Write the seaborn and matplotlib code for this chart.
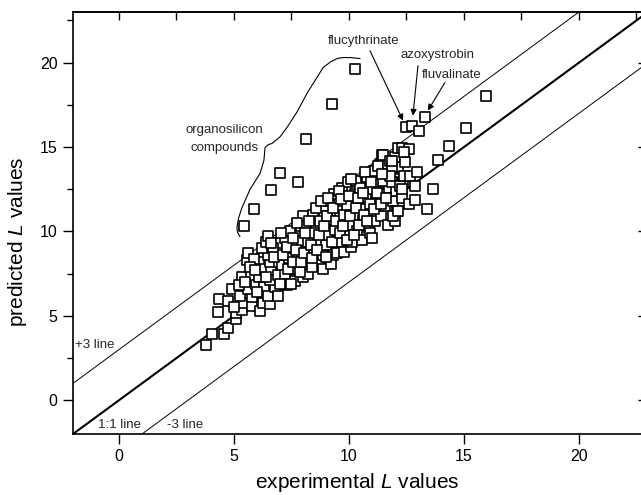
import pandas as pd
import seaborn as sns
import matplotlib.pyplot as plt

# experimental vs predicted L values
exp_L = [
    3.8, 4.05, 4.55, 4.75, 5.1, 4.3, 4.35, 4.75, 4.9, 5.1, 5.35, 5.4, 5.0, 5.25,
    5.8, 5.8, 6.15, 6.25, 6.55, 5.6, 5.95, 5.35, 5.75, 6.1, 6.1, 5.55, 5.6, 5.85,
    6.3, 6.5, 6.8, 6.55, 6.3, 6.6, 6.55, 6.5, 6.95, 6.9, 7.3, 7.2, 7.1, 7.0,
    6.85, 7.2, 7.4, 7.45, 7.65, 7.65, 7.6, 7.8, 7.9, 7.95, 8.0, 8.1, 8.2, 8.2,
    8.15, 8.0, 8.3, 8.45, 8.55, 8.65, 8.7, 8.85, 8.85, 8.9, 8.95, 8.5, 8.75, 8.4,
    9.0, 9.1, 9.2, 9.2, 9.15, 9.35, 9.3, 9.4, 9.5, 9.5, 9.55, 9.6, 9.7, 9.8,
    9.85, 9.9, 9.95, 10.0, 10.1, 10.15, 10.2, 10.25, 10.3, 10.35, 10.45, 10.5, 10.55, 10.6,
    10.7, 10.75, 10.8, 10.85, 10.9, 11.0, 11.05, 11.1, 11.15, 11.2, 11.3, 11.35, 11.4, 11.45,
    11.5, 11.55, 11.6, 11.7, 11.75, 11.8, 11.9, 11.95, 12.05, 12.1, 12.15, 12.3, 12.35, 12.6,
    5.2, 5.5, 5.7, 5.9, 6.0, 6.2, 6.4, 6.4, 6.7, 6.75, 6.9, 7.0, 7.05, 7.15,
    7.3, 7.35, 7.5, 7.55, 7.55, 7.7, 7.75, 7.85, 7.9, 8.05, 8.1, 8.25, 8.35, 8.4,
    8.55, 8.6, 8.7, 8.8, 8.9, 9.0, 9.05, 9.1, 9.25, 9.3, 9.45, 9.55, 9.6, 9.65,
    9.75, 9.8, 9.9, 10.0, 10.05, 10.1, 10.2, 10.3, 10.4, 10.45, 10.6, 10.65, 10.7, 10.8,
    10.9, 10.95, 11.0, 11.1, 11.2, 11.25, 11.4, 11.5, 11.6, 11.7, 11.85, 12.0, 12.0, 12.2,
    12.4, 11.9, 12.45, 11.48, 11.78, 11.87, 11.87, 11.78, 11.43, 12.65, 12.96, 12.3, 12.87,
    5.45, 5.85, 6.6, 7.0, 7.8, 8.15, 9.25, 10.25, 6.5, 6.6,
    12.5, 12.75, 13.3, 13.05, 12.15, 12.3, 12.6, 12.4, 14.35, 15.1, 15.95,
    13.85, 13.65, 12.85, 13.4, 12.15,
]
pred_L = [
    3.3, 3.9, 3.95, 4.3, 4.8, 5.2, 6.0, 5.85, 6.6, 5.15, 5.35, 5.75, 5.5, 6.2,
    5.6, 6.1, 5.3, 5.75, 5.7, 6.6, 6.9, 7.3, 7.4, 7.3, 8.2, 8.3, 8.75, 8.35,
    6.7, 6.2, 6.7, 7.1, 7.8, 7.7, 8.2, 8.6, 8.2, 7.4, 6.8, 7.5, 8.0, 8.8,
    9.3, 9.6, 8.4, 10.05, 7.05, 9.15, 7.8, 8.5, 10.35, 9.45, 7.3, 8.0, 7.5, 9.4,
    10.4, 10.9, 8.8, 11.0, 10.2, 9.45, 8.0, 8.6, 7.75, 11.0, 11.5, 9.9, 10.6, 7.9,
    9.2, 9.8, 8.1, 10.5, 11.8, 12.2, 8.6, 10.1, 8.7, 11.2, 9.4, 10.8, 12.6, 8.8,
    9.9, 11.5, 12.9, 10.4, 9.1, 9.35, 11.0, 12.2, 13.0, 10.0, 11.7, 12.6, 9.5, 10.7,
    11.3, 12.0, 13.2, 10.2, 9.9, 11.0, 12.5, 13.6, 10.6, 11.8, 12.9, 14.0, 10.9, 14.5,
    12.2, 11.5, 13.4, 10.4, 12.6, 14.2, 11.8, 13.1, 12.4, 11.2, 13.8, 12.0, 12.9, 11.6,
    6.8, 7.0, 7.9, 7.7, 6.4, 9.0, 9.4, 7.3, 9.0, 8.5, 6.2, 6.9, 9.9, 8.6,
    9.1, 7.8, 6.9, 8.2, 9.6, 8.9, 10.5, 7.6, 8.2, 8.7, 9.9, 10.6, 9.2, 8.4,
    11.4, 8.9, 9.8, 11.8, 10.3, 8.5, 10.9, 12.0, 9.4, 11.4, 10.6, 12.4, 9.9, 11.9,
    10.3, 11.0, 9.5, 12.1, 10.9, 13.1, 9.8, 11.4, 12.0, 10.4, 12.3, 11.0, 13.5, 10.6,
    11.6, 12.9, 9.6, 11.3, 12.3, 13.9, 11.6, 13.0, 12.0, 14.0, 12.9, 10.6, 14.4, 12.7,
    13.3, 10.9, 14.1, 14.55, 14.2, 13.8, 14.2, 13.3, 13.4, 13.3, 13.5, 12.5, 12.7,
    10.35, 11.3, 12.45, 13.45, 12.95, 15.5, 17.55, 19.65, 9.75, 9.3,
    16.2, 16.25, 16.8, 15.95, 14.95, 14.95, 14.9, 14.7, 15.05, 16.1, 18.05,
    14.25, 12.5, 11.85, 11.3, 11.2,
]

# reference lines y = x + offset
line_x = [-2, 24]
line_offsets = [0, 3, -3]

# hand-drawn outline around the organosilicon compounds
curve_x = [5.26, 5.15, 5.13, 5.2, 5.35, 5.7, 6.13, 6.3, 6.35, 6.5, 6.65, 7.0, 7.3, 7.75, 8.17,
           8.55, 8.87, 9.2, 9.5, 9.74, 10.1, 10.48]
curve_y = [9.70, 9.95, 10.24, 10.8, 11.42, 12.5, 13.43, 14.2, 14.97, 15.15, 15.21, 15.6, 16.15,
           17.1, 18.17, 19.0, 19.7, 20.05, 20.25, 20.3, 20.3, 20.24]

# labelled pesticides: text position, arrow start, arrow tip
pest_names = ["flucythrinate", "azoxystrobin", "fluvalinate"]
pest_text = [(10.65, 21.3), (13.87, 20.47), (14.48, 19.29)]
pest_from = [(10.91, 20.71), (13.0, 19.82), (14.17, 18.82)]
pest_to = [(12.35, 16.57), (12.78, 16.86), (13.43, 17.16)]

df = pd.DataFrame({"experimental": exp_L, "predicted": pred_L})

sns.set_theme(style="ticks")
plt.rcParams["font.family"] = ["Liberation Sans", "DejaVu Sans"]
plt.rcParams["mathtext.fontset"] = "custom"
plt.rcParams["mathtext.rm"] = "Liberation Sans"
plt.rcParams["mathtext.it"] = "Liberation Sans:italic"

fig = plt.figure(figsize=(6.41, 4.95), dpi=100)
ax = fig.add_axes([73 / 641, 61 / 495, 569 / 641, 422 / 495])

for off in line_offsets:
    ax.plot(line_x, [v + off for v in line_x], color="black",
            lw=1.5 if off == 0 else 0.7, zorder=1)

sns.scatterplot(data=df, x="experimental", y="predicted", marker="s", s=46,
                facecolor="white", edgecolor="black", linewidth=1.2, ax=ax, zorder=3)

ax.plot(curve_x, curve_y, color="black", lw=0.8)

ax.text(4.57, 16.0, "organosilicon", ha="center", va="center", fontsize=9.5)
ax.text(4.57, 14.97, "compounds", ha="center", va="center", fontsize=9.5)
for name, t, a, b in zip(pest_names, pest_text, pest_from, pest_to):
    ax.text(t[0], t[1], name, ha="center", va="center", fontsize=9.5)
    ax.annotate("", xy=b, xytext=a,
                arrowprops=dict(arrowstyle="-|>", color="black", lw=0.8,
                                mutation_scale=9, shrinkA=0, shrinkB=0))

ax.text(-1.91, 3.25, "+3 line", ha="left", va="center", fontsize=9.5)
ax.text(-0.91, -1.45, "1:1 line", ha="left", va="center", fontsize=9.5)
ax.text(2.09, -1.45, "-3 line", ha="left", va="center", fontsize=9.5)

ax.set_xlim(-2, 22.74)
ax.set_ylim(-2, 23)
ax.set_xticks([0, 5, 10, 15, 20])
ax.set_yticks([0, 5, 10, 15, 20])
ax.set_xticks([-2.5 + 2.5 * i for i in range(1, 10, 2)], minor=True)
ax.set_yticks([2.5, 7.5, 12.5, 17.5, 22.5], minor=True)
ax.tick_params(which="major", direction="out", length=7, width=1.0,
               labelsize=11.5, color="black", labelcolor="black", pad=4)
ax.tick_params(which="minor", direction="out", length=4, width=1.0, color="black")

for sp in ax.spines.values():
    sp.set_linewidth(1.2)
    sp.set_color("black")
    sp.set_visible(True)

top = ax.secondary_xaxis("top")
top.set_xticks([0, 5, 10, 15, 20])
top.set_xticks([2.5, 7.5, 12.5, 17.5, 22.5], minor=True)
top.tick_params(which="both", direction="in", length=5.5, width=1.0,
                labeltop=False, color="black")
right = ax.secondary_yaxis("right")
right.set_yticks([0, 5, 10, 15, 20])
right.tick_params(direction="in", length=3, width=1.0, labelright=False, color="black")
right.spines["right"].set_visible(False)

ax.set_xlabel("experimental $L$ values", fontsize=15, color="black")
ax.set_ylabel("predicted $L$ values", fontsize=15, color="black")
ax.xaxis.set_label_coords(0.5, -0.088)
ax.yaxis.set_label_coords(-0.078, 0.455)

plt.savefig("out.png", dpi=100)
